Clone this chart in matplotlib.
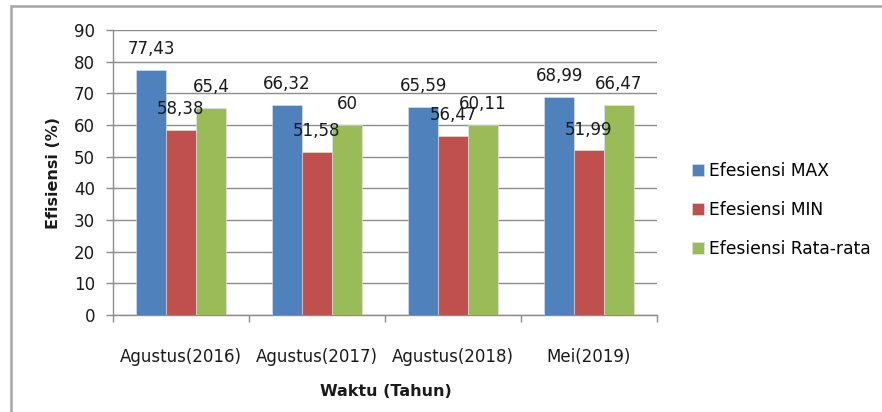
import numpy as np
import matplotlib.pyplot as plt
from matplotlib.patches import Rectangle

# data
kategori = ['Agustus(2016)', 'Agustus(2017)', 'Agustus(2018)', 'Mei(2019)']
eff_max = [77.43, 66.32, 65.59, 68.99]
eff_min = [58.38, 51.58, 56.47, 51.99]
eff_avg = [65.4, 60, 60.11, 66.47]
seri = ['Efesiensi MAX', 'Efesiensi MIN', 'Efesiensi Rata-rata']
warna = ['#4F81BD', '#C0504D', '#9BBB59']

plt.rcParams['font.family'] = ['DejaVu Sans']

W, H = 882, 412
fig = plt.figure(figsize=(W / 100, H / 100), dpi=100)
ax = fig.add_axes([113 / W, 1 - 315 / H, 544 / W, 285 / H])

x = np.arange(len(kategori))
lebar = 0.22
for i, (nilai, nama) in enumerate(zip([eff_max, eff_min, eff_avg], seri)):
    pos = x + (i - 1) * lebar
    ax.bar(pos, nilai, lebar, color=warna[i], edgecolor='#dfe6f0', linewidth=0.4,
           label=nama, zorder=3)
    for px, v in zip(pos, nilai):
        ax.annotate(f'{v:g}'.replace('.', ','), (px, v), xytext=(0, 15),
                    textcoords='offset points', ha='center', va='center',
                    fontsize=12, color='#1a1a1a', zorder=4)

ax.set_xlim(-0.5, len(kategori) - 0.5)
ax.set_ylim(0, 90)
ax.set_yticks(np.arange(0, 91, 10))
ax.yaxis.grid(True, color='#8c8c8c', linewidth=1.0, zorder=0)

ax.set_xticks(x)
ax.set_xticklabels(kategori)
ax.set_xticks(np.arange(-0.5, len(kategori)), minor=True)
ax.tick_params(axis='x', which='major', length=0, pad=24, labelsize=12, labelcolor='#1a1a1a')
ax.tick_params(axis='x', which='minor', length=5, width=1, color='#8c8c8c')
ax.tick_params(axis='y', length=5, width=1, color='#8c8c8c', pad=8, labelsize=12,
               labelcolor='#1a1a1a')

for s in ['top', 'right']:
    ax.spines[s].set_visible(False)
for s in ['left', 'bottom']:
    ax.spines[s].set_color('#8c8c8c')
    ax.spines[s].set_linewidth(1.0)

fig.text(386 / W, 1 - 391 / H, 'Waktu (Tahun)', ha='center', va='center',
         fontsize=11.5, fontweight='bold', color='#1a1a1a')
fig.text(53 / W, 1 - 173 / H, 'Efisiensi (%)', ha='center', va='center',
         rotation=90, fontsize=11.5, fontweight='bold', color='#1a1a1a')

ax.legend(loc='upper left', bbox_to_anchor=(692 / W, 1 - 162 / H),
          bbox_transform=fig.transFigure, frameon=False, fontsize=12.3,
          handlelength=0.72, handleheight=0.72, handletextpad=0.3,
          labelspacing=1.22, borderpad=0, borderaxespad=0)

# bingkai luar dan potongan teks dokumen di atas
fig.patches.append(Rectangle((11 / W, -0.1), 1.2, 1 - 6 / H + 0.1,
                             transform=fig.transFigure, fill=False,
                             edgecolor='#a6a6a6', linewidth=1.8))
for kata, px in [('juga', 67), ('grafik', 164), ('juga', 299), ('pada', 380)]:
    fig.text(px / W, 1 + 3.5 / H, kata, ha='left', va='baseline',
             fontsize=12, family='Liberation Serif', color='#333333')

fig.savefig('out.png', dpi=100)
